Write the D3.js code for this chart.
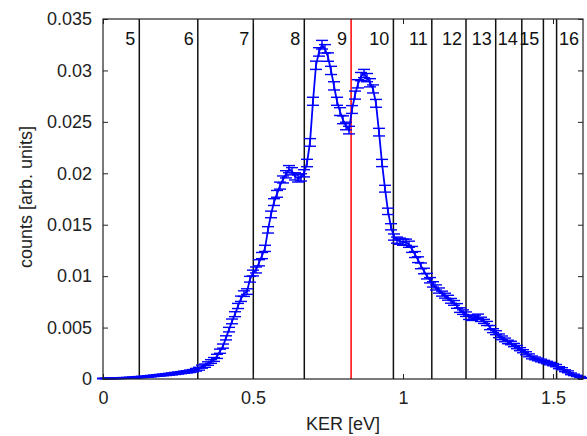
<!DOCTYPE html>
<html>
<head>
<meta charset="utf-8">
<script src="https://cdn.jsdelivr.net/npm/d3@7"></script>
<style>
  html, body { margin: 0; padding: 0; background: #fff; }
  svg text { font-family: "Liberation Sans", Arial, sans-serif; fill: #222; }
</style>
</head>
<body>
<div id="chart"></div>
<script>
// KER spectrum, bins of 0.01 eV from 0 to 1.6
const kerStart = 0, kerStep = 0.01;
const counts = [
  0.00005, 0.00005, 0.00006, 0.00006, 0.00007, 0.00008, 0.00009, 0.0001, 0.00011, 0.00012,
  0.00014, 0.00016, 0.00018, 0.0002, 0.00022, 0.00025, 0.00028, 0.00031, 0.00034, 0.00037,
  0.0004, 0.00043, 0.00046, 0.0005, 0.00054, 0.00058, 0.00062, 0.00066, 0.0007, 0.00075,
  0.0008, 0.0009, 0.001, 0.0012, 0.0013, 0.0015, 0.0017, 0.0019, 0.0022, 0.0027,
  0.0032, 0.004, 0.0048, 0.0056, 0.0063, 0.0071, 0.0078, 0.0083, 0.0085, 0.0097,
  0.0103, 0.0106, 0.0113, 0.012, 0.0127, 0.0145, 0.016, 0.0172, 0.018, 0.0188,
  0.0194, 0.0199, 0.0204, 0.0202, 0.0197, 0.0195, 0.0196, 0.02, 0.021, 0.023,
  0.027, 0.0305, 0.0318, 0.0325, 0.0321, 0.0313, 0.03, 0.0285, 0.027, 0.026,
  0.0252, 0.0246, 0.0242, 0.0262, 0.0276, 0.0287, 0.0294, 0.0297, 0.0293, 0.0288,
  0.0282, 0.0268, 0.024, 0.021, 0.0185, 0.0163, 0.0148, 0.0138, 0.0135, 0.0134,
  0.0133, 0.0133, 0.0131, 0.0126, 0.0121, 0.0116, 0.011, 0.0105, 0.01, 0.0096,
  0.0092, 0.0089, 0.0086, 0.0083, 0.0081, 0.0079, 0.0076, 0.0074, 0.0071, 0.0067,
  0.0065, 0.0063, 0.006, 0.0059, 0.006, 0.0061, 0.0058, 0.0056, 0.0054, 0.005,
  0.0047, 0.0045, 0.0042, 0.004, 0.0038, 0.0036, 0.0035, 0.0033, 0.0031, 0.0029,
  0.0027, 0.0025, 0.0023, 0.0021, 0.002, 0.0019, 0.0018, 0.0017, 0.0016, 0.0015,
  0.0014, 0.0013, 0.0011, 0.001, 0.0008, 0.0007, 0.0005, 0.0004, 0.0003, 0.0002,
  0.0001
];
const errors = [
  0.00003, 0.00003, 0.00003, 0.00003, 0.00003, 0.00004, 0.00004, 0.00004, 0.00004, 0.00005,
  0.00005, 0.00005, 0.00006, 0.00006, 0.00006, 0.00007, 0.00007, 0.00007, 0.00008, 0.00008,
  0.00008, 0.00009, 0.00009, 0.0001, 0.0001, 0.0001, 0.0001, 0.00011, 0.00011, 0.00012,
  0.00012, 0.00013, 0.00014, 0.00015, 0.00016, 0.00017, 0.00018, 0.00019, 0.0002, 0.0002,
  0.0002, 0.0002, 0.00022, 0.00023, 0.00024, 0.00025, 0.00026, 0.00027, 0.00027, 0.00028,
  0.00028, 0.00029, 0.0003, 0.0003, 0.0003, 0.00031, 0.00032, 0.00033, 0.00033, 0.00034,
  0.00034, 0.00035, 0.00035, 0.00035, 0.00035, 0.00035, 0.00035, 0.00035, 0.00036, 0.00037,
  0.00039, 0.0004, 0.00041, 0.00042, 0.00041, 0.00041, 0.0004, 0.0004, 0.00039, 0.00038,
  0.00038, 0.00037, 0.00037, 0.00038, 0.00039, 0.0004, 0.0004, 0.0004, 0.0004, 0.0004,
  0.00039, 0.00038, 0.00037, 0.00035, 0.00033, 0.00031, 0.0003, 0.0003, 0.0003, 0.0003,
  0.0003, 0.0003, 0.0003, 0.00029, 0.00029, 0.00028, 0.00028, 0.00027, 0.00027, 0.00026,
  0.00026, 0.00025, 0.00025, 0.00024, 0.00024, 0.00024, 0.00023, 0.00023, 0.00023, 0.00022,
  0.00022, 0.00022, 0.00021, 0.00021, 0.00021, 0.00021, 0.00021, 0.0002, 0.0002, 0.0002,
  0.00019, 0.00019, 0.00018, 0.00018, 0.00018, 0.00017, 0.00017, 0.00016, 0.00016, 0.00015,
  0.00015, 0.00015, 0.00014, 0.00014, 0.00013, 0.00013, 0.00013, 0.00012, 0.00012, 0.00012,
  0.00011, 0.00011, 0.0001, 0.0001, 0.00009, 0.00009, 0.00008, 0.00007, 0.00006, 0.00005,
  0.00004
];

// Rydberg state labels, each placed just left of the KER value in labelAt
const stateLabels = ["5", "6", "7", "8", "9", "10", "11", "12", "13", "14", "15", "16"];
const labelAt = [0.121, 0.316, 0.501, 0.671, 0.827, 0.968, 1.096, 1.210, 1.309, 1.396, 1.468, 1.6];
// black separator lines and the red marker
const blackLines = [0.121, 0.316, 0.501, 0.671, 0.968, 1.096, 1.210, 1.309, 1.396, 1.468, 1.512];
const redLine = 0.827;

const xTicks = [0, 0.5, 1, 1.5];
const yTicks = [0, 0.005, 0.01, 0.015, 0.02, 0.025, 0.03, 0.035];

const data = counts.map((c, i) => ({ ker: kerStart + i * kerStep, c: c, e: errors[i] }));

const W = 587, H = 436;
const margin = { top: 19, right: 4, bottom: 57, left: 103 };
const width = W - margin.left - margin.right;
const height = H - margin.top - margin.bottom;

const svg = d3.select("#chart").append("svg")
    .attr("width", W)
    .attr("height", H);

const g = svg.append("g")
    .attr("transform", `translate(${margin.left},${margin.top})`);

const x = d3.scaleLinear().domain([0, 1.6]).range([0, width]);
const y = d3.scaleLinear().domain([0, 0.035]).range([height, 0]);

g.selectAll(".sep")
    .data(blackLines)
    .enter().append("line")
    .attr("class", "sep")
    .attr("x1", d => x(d)).attr("x2", d => x(d))
    .attr("y1", 0).attr("y2", height)
    .attr("stroke", "#111")
    .attr("stroke-width", 1.5);

g.append("line")
    .attr("x1", x(redLine)).attr("x2", x(redLine))
    .attr("y1", 0).attr("y2", height)
    .attr("stroke", "#ff0000")
    .attr("stroke-width", 1.5);

g.selectAll(".state")
    .data(stateLabels)
    .enter().append("text")
    .attr("class", "state")
    .attr("x", (d, i) => x(labelAt[i]) - 4)
    .attr("y", 26)
    .attr("text-anchor", "end")
    .style("font-size", "18px")
    .style("fill", "#111")
    .text(d => d);

// data line + error bars
const line = d3.line()
    .x(d => x(d.ker))
    .y(d => y(d.c));

const bars = g.append("g")
    .attr("stroke", "#0000ff")
    .attr("stroke-width", 1.4)
    .attr("fill", "none");

const eb = bars.selectAll("g")
    .data(data)
    .enter().append("g");

eb.append("line")
    .attr("x1", d => x(d.ker)).attr("x2", d => x(d.ker))
    .attr("y1", d => y(d.c - d.e)).attr("y2", d => y(d.c + d.e));
eb.append("line")
    .attr("x1", d => x(d.ker) - 6).attr("x2", d => x(d.ker) + 6)
    .attr("y1", d => y(d.c - d.e)).attr("y2", d => y(d.c - d.e));
eb.append("line")
    .attr("x1", d => x(d.ker) - 6).attr("x2", d => x(d.ker) + 6)
    .attr("y1", d => y(d.c + d.e)).attr("y2", d => y(d.c + d.e));

g.append("path")
    .datum(data)
    .attr("fill", "none")
    .attr("stroke", "#0000ff")
    .attr("stroke-width", 1.8)
    .attr("d", line);

// box
g.append("rect")
    .attr("width", width).attr("height", height)
    .attr("fill", "none")
    .attr("stroke", "#222")
    .attr("stroke-width", 1.2);

// axes, ticks inward (MATLAB style)
g.append("g")
    .attr("transform", `translate(0,${height})`)
    .call(d3.axisBottom(x).tickValues(xTicks).tickSizeInner(-5).tickSizeOuter(0).tickPadding(12)
      .tickFormat(d => d3.format("")(d)))
    .call(a => a.select(".domain").remove())
    .call(a => a.selectAll("text").style("font-size", "18px"));

g.append("g")
    .call(d3.axisTop(x).tickValues(xTicks).tickSizeInner(-5).tickSizeOuter(0).tickFormat(""))
    .call(a => a.select(".domain").remove());

g.append("g")
    .call(d3.axisLeft(y).tickValues(yTicks).tickSizeInner(-5).tickSizeOuter(0).tickPadding(11)
      .tickFormat(d => d3.format("")(+d.toFixed(3))))
    .call(a => a.select(".domain").remove())
    .call(a => a.selectAll("text").style("font-size", "18px"));

g.append("g")
    .attr("transform", `translate(${width},0)`)
    .call(d3.axisRight(y).tickValues(yTicks).tickSizeInner(-5).tickSizeOuter(0).tickFormat(""))
    .call(a => a.select(".domain").remove());

g.selectAll(".tick line").attr("stroke", "#222");

// axis titles
svg.append("text")
    .attr("x", margin.left + x(0.8))
    .attr("y", 430)
    .attr("text-anchor", "middle")
    .style("font-size", "18px")
    .text("KER [eV]");

svg.append("text")
    .attr("transform", "translate(32,197) rotate(-90)")
    .attr("text-anchor", "middle")
    .style("font-size", "18px")
    .text("counts [arb. units]");
</script>
</body>
</html>
